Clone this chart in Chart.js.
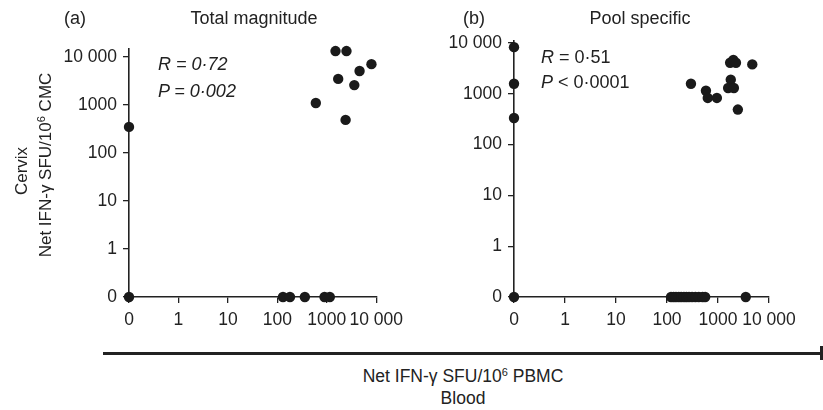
<!DOCTYPE html>
<html>
<head>
<meta charset="utf-8">
<script src="https://cdn.jsdelivr.net/npm/chart.js@4.4.1/dist/chart.umd.min.js"></script>
<style>
  body { margin: 0; background: #fff; }
  #wrap { position: relative; width: 823px; height: 410px; font-family: "Liberation Sans", Arial, sans-serif; color: #222; }
  #wrap canvas { position: absolute; top: 0; }
  .lbl { position: absolute; font-size: 18px; line-height: 20px; white-space: nowrap; }
  .ytitle { position: absolute; font-size: 17px; line-height: 20px; white-space: nowrap; transform: translate(-50%, -50%) rotate(-90deg); }
  .ctr { transform: translateX(-50%); }
  sup { font-size: 11px; vertical-align: 6px; line-height: 0; }
  #arrow { position: absolute; left: 103px; top: 352px; width: 718px; height: 3px; background: #222; }
  #arrowEnd { position: absolute; left: 820px; top: 346px; width: 3px; height: 14px; background: #222; }
</style>
</head>
<body>
<div id="wrap">
  <canvas id="panelA" width="410" height="340" style="left:0"></canvas>
  <canvas id="panelB" width="413" height="340" style="left:410px"></canvas>

  <div class="lbl" style="left:64px; top:8px">(a)</div>
  <div class="lbl ctr" style="left:254px; top:8px">Total magnitude</div>
  <div class="lbl" style="left:463px; top:8px">(b)</div>
  <div class="lbl ctr" style="left:640px; top:8px">Pool specific</div>

  <div class="lbl" style="left:158px; top:54px; font-style:italic">R = 0·72</div>
  <div class="lbl" style="left:158px; top:81px; font-style:italic">P = 0·002</div>
  <div class="lbl" style="left:541px; top:47px"><i>R</i> = 0·51</div>
  <div class="lbl" style="left:541px; top:72px"><i>P</i> &lt; 0·0001</div>

  <div class="ytitle" style="left:22px; top:171px">Cervix</div>
  <div class="ytitle" style="left:46px; top:165px">Net IFN-γ SFU/10<sup>6</sup> CMC</div>

  <div id="arrow"></div>
  <div id="arrowEnd"></div>
  <div class="lbl ctr" style="left:463px; top:366px; font-size:17.5px">Net IFN-γ SFU/10<sup>6</sup> PBMC</div>
  <div class="lbl ctr" style="left:463px; top:388px; font-size:17.5px">Blood</div>
</div>

<script>
// axis ticks: 0 sits one decade below 1
const tickValues = [0, 1, 10, 100, 1000, 10000];
const tickLabels = ['0', '1', '10', '100', '1000', '10 000'];

// (a) total magnitude
const totalBlood  = [0, 1500, 2500, 8000, 4600, 1700, 3600, 600, 2400, 0, 130, 180, 360, 900, 1150];
const totalCervix = [350, 13300, 13300, 7100, 5100, 3500, 2600, 1100, 490, 0, 0, 0, 0, 0, 0];

// (b) pool specific
const poolBlood  = [0, 0, 0, 0, 295, 580, 630, 950, 1780, 1580, 2050, 1730, 2000, 2250, 4700, 2450,
                    120, 135, 150, 170, 190, 215, 240, 270, 310, 360, 420, 500, 560, 3500];
const poolCervix = [8300, 1580, 335, 0, 1580, 1150, 830, 830, 1900, 1300, 1300, 4100, 4650, 4100, 3800, 490,
                    0, 0, 0, 0, 0, 0, 0, 0, 0, 0, 0, 0, 0, 0];

const pos = v => v === 0 ? -1 : Math.log10(v);
const tickPos = tickValues.map(pos);
const ink = '#222';
const tickFont = { family: '"Liberation Sans", Arial, sans-serif', size: 17.5 };

function axis(extra) {
    return Object.assign({
        type: 'linear',
        afterBuildTicks: s => { s.ticks = tickPos.map(v => ({ value: v })); },
        ticks: {
            callback: v => tickLabels[tickPos.indexOf(v)],
            font: tickFont,
            color: ink,
            autoSkip: false,
            maxRotation: 0
        },
        grid: { drawOnChartArea: false, tickLength: 6, color: ink, lineWidth: 1.3 },
        border: { color: ink, width: 1.6 }
    }, extra);
}

function makePanel(id, blood, cervix, opts) {
    const x = axis({ min: -1, max: 4, afterFit: s => { s.height = 340 - opts.bottom; } });
    x.ticks = Object.assign({}, x.ticks, { padding: 7 });
    const y = axis({ min: -1, max: opts.yMax, afterFit: s => { s.width = opts.left; } });
    y.ticks = Object.assign({}, y.ticks, { padding: 6 });

    return new Chart(document.getElementById(id), {
        type: 'scatter',
        data: {
            datasets: [{
                data: blood.map((b, i) => ({ x: pos(b), y: pos(cervix[i]) })),
                backgroundColor: '#1a1a1a',
                borderColor: '#1a1a1a',
                pointRadius: 5.2,
                borderWidth: 0,
                clip: false
            }]
        },
        options: {
            responsive: false,
            animation: false,
            devicePixelRatio: 1,
            layout: { padding: { left: 0, right: opts.right, top: opts.top, bottom: 0 } },
            plugins: { legend: { display: false }, tooltip: { enabled: false } },
            scales: { x: x, y: y }
        }
    });
}

makePanel('panelA', totalBlood, totalCervix, { left: 129, right: 32, top: 49, bottom: 297, yMax: 4.167 });
makePanel('panelB', poolBlood, poolCervix, { left: 104, right: 54, top: 41, bottom: 297, yMax: 4.04 });
</script>
</body>
</html>
